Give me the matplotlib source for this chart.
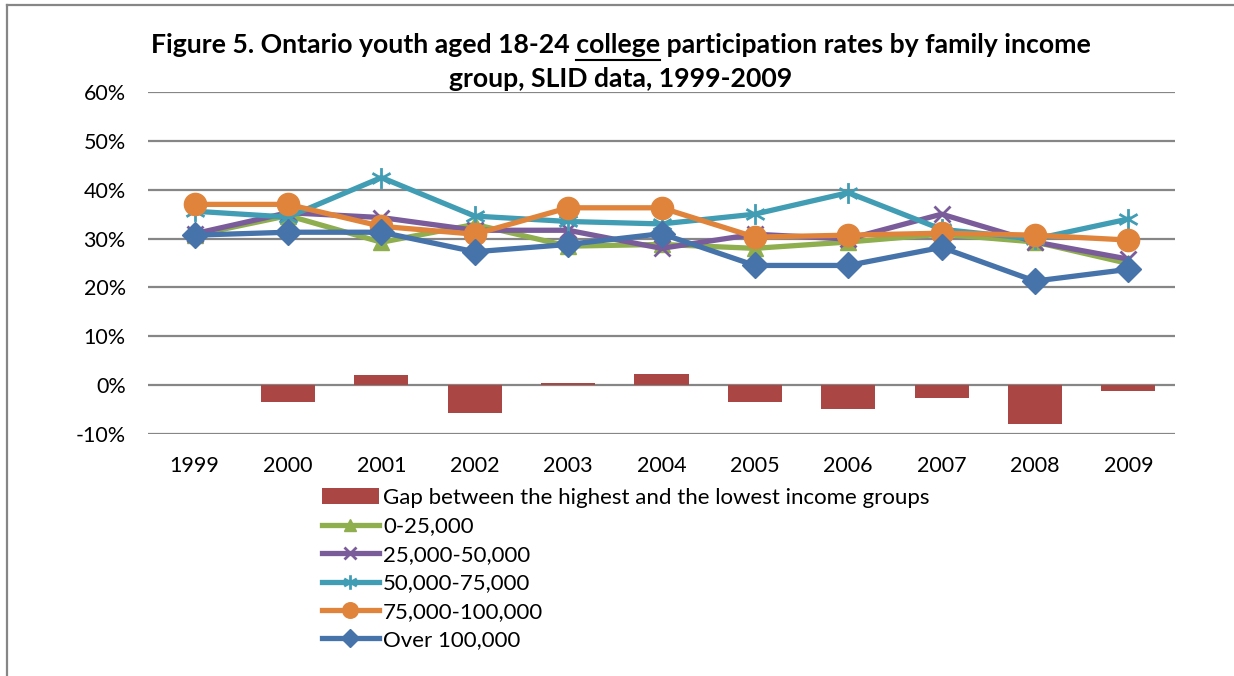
import matplotlib
matplotlib.use("Agg")
import matplotlib.pyplot as plt
from matplotlib.path import Path
from matplotlib.lines import Line2D
import numpy as np

plt.rcParams['font.family'] = ['Lato', 'DejaVu Sans']

years = ['1999', '2000', '2001', '2002', '2003', '2004', '2005', '2006', '2007', '2008', '2009']

# participation rates, percent
inc_0_25 = [30.7, 34.7, 29.25, 32.9, 28.45, 28.8, 28.0, 29.3, 30.9, 29.3, 24.9]
inc_25_50 = [31.0, 35.3, 34.3, 31.7, 31.7, 28.0, 30.9, 29.9, 35.0, 29.3, 25.8]
inc_50_75 = [35.6, 34.4, 42.5, 34.6, 33.5, 33.0, 35.0, 39.4, 31.9, 29.9, 34.0]
inc_75_100 = [37.0, 37.0, 32.5, 30.9, 36.3, 36.3, 30.3, 30.7, 31.1, 30.7, 29.7]
inc_over_100 = [30.7, 31.3, 31.3, 27.3, 28.8, 31.0, 24.5, 24.5, 28.2, 21.3, 23.7]
# highest minus lowest income group, percentage points
gap = [0.0, -3.4, 2.05, -5.6, 0.35, 2.2, -3.5, -4.8, -2.7, -8.0, -1.2]

series_labels = ['0-25,000', '25,000-50,000', '50,000-75,000', '75,000-100,000', 'Over 100,000']
gap_label = 'Gap between the highest and the lowest income groups'

W, H, DPI = 1234, 676, 100
fig = plt.figure(figsize=(W / DPI, H / DPI), dpi=DPI)
ax = fig.add_axes([148 / W, 1 - 434 / H, (1175 - 148) / W, (434 - 92) / H])

x = np.arange(len(years))
to_frac = lambda v: np.asarray(v) / 100.0

# six-armed asterisk marker
star_path = Path(
    [(0, -1), (0, 1), (-0.87, -0.5), (0.87, 0.5), (-0.87, 0.5), (0.87, -0.5)],
    [Path.MOVETO, Path.LINETO, Path.MOVETO, Path.LINETO, Path.MOVETO, Path.LINETO])

bars = ax.bar(x, to_frac(gap), width=0.58, color='#AA4744', zorder=2, label=gap_label)

styles = [
    dict(color='#8FAE4D', marker='^', ms=12),
    dict(color='#7A5C9B', marker='x', ms=12, mew=2),
    dict(color='#419DB3', marker=star_path, ms=15, mew=2),
    dict(color='#E0843C', marker='o', ms=16),
    dict(color='#4673AA', marker='D', ms=13),
]
data = [inc_0_25, inc_25_50, inc_50_75, inc_75_100, inc_over_100]
line_handles = []
for vals, lab, st in zip(data, series_labels, styles):
    h, = ax.plot(x, to_frac(vals), color=st['color'], lw=3.8, marker=st['marker'],
                 markersize=st['ms'], markeredgewidth=st.get('mew', 1),
                 markerfacecolor=st['color'], markeredgecolor=st['color'],
                 zorder=3, label=lab, solid_joinstyle='round')
    line_handles.append(h)

ax.set_ylim(-0.10, 0.60)
ax.set_xlim(-0.5, len(years) - 0.5)
ax.set_yticks(np.arange(-0.10, 0.61, 0.10))
ax.set_yticklabels([f'{int(round(v * 100))}%' for v in np.arange(-0.10, 0.61, 0.10)])
ax.set_xticks(x)
ax.set_xticklabels(years)
ax.tick_params(axis='both', length=0, labelsize=15.5, colors='black')
ax.tick_params(axis='y', pad=16)
ax.tick_params(axis='x', pad=16)
for s in ax.spines.values():
    s.set_visible(False)
ax.yaxis.grid(True, color='#868686', lw=1.6, zorder=0)
ax.set_axisbelow(True)

# legend below the plot
fig.legend([bars] + line_handles, [gap_label] + series_labels,
           loc='upper left', bbox_to_anchor=(322 / W, 1 - 488 / H),
           frameon=False, fontsize=16, handlelength=2.55, handletextpad=0.2,
           labelspacing=0.38, borderpad=0, borderaxespad=0, markerscale=0.7)

# two-line title with the word "college" underlined
tsize = 19.2
line1_pre = 'Figure 5. Ontario youth aged 18-24 '
word = 'college'
line1_post = ' participation rates by family income'
line2 = 'group, SLID data, 1999-2009'
cx = 621 / W
renderer = fig.canvas.get_renderer()

def width_px(s):
    t = fig.text(0, 0, s, fontsize=tsize, fontweight='bold')
    w = t.get_window_extent(renderer).width
    t.remove()
    return w

full_w = width_px(line1_pre + word + line1_post)
pre_w = width_px(line1_pre + word) - width_px(word)
word_w = width_px(word)
fig.text(cx, 1 - 45 / H, line1_pre + word + line1_post, fontsize=tsize, fontweight='bold',
         ha='center', va='center')
x0 = cx * W - full_w / 2 + pre_w
fig.add_artist(Line2D([x0 / W, (x0 + word_w) / W], [1 - 60 / H, 1 - 60 / H],
                      color='black', lw=1.5, transform=fig.transFigure))
fig.text(cx, 1 - 79 / H, line2, fontsize=tsize, fontweight='bold',
         ha='center', va='center')

# chart border
fig.add_artist(Line2D([7 / W, 1.0], [1 - 5 / H, 1 - 5 / H], color='#868686', lw=1.6,
                      transform=fig.transFigure))
fig.add_artist(Line2D([7 / W, 7 / W], [0.0, 1 - 5 / H], color='#868686', lw=1.6,
                      transform=fig.transFigure))

fig.savefig('out.png', dpi=DPI)
